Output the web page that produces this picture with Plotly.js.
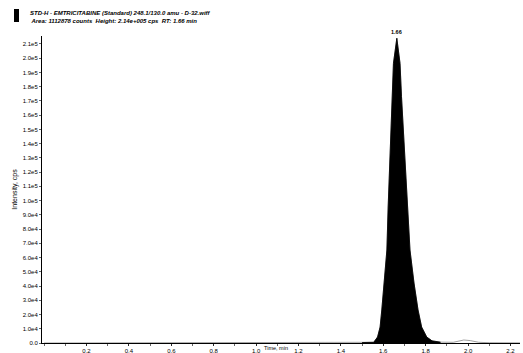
<!DOCTYPE html>
<html>
<head>
<meta charset="utf-8">
<script src="https://cdn.plot.ly/plotly-3.0.1.min.js"></script>
<style>html,body{margin:0;padding:0;background:#fff;}#chart{width:523px;height:353px;}</style>
</head>
<body>
<div id="chart"></div>
<script>
// Time (min) and intensity (cps)
var timeMin = [0.0, 0.5, 1.0, 1.2, 1.4, 1.50, 1.555, 1.573, 1.585, 1.593, 1.604, 1.617, 1.623, 1.629, 1.635, 1.640, 1.648, 1.664,
  1.679, 1.686, 1.695, 1.706, 1.715, 1.726, 1.745, 1.764, 1.781, 1.805, 1.83, 1.87, 1.93, 1.96, 1.98, 2.01, 2.05, 2.10, 2.245];
var intensity = [0, 200, 300, 300, 300, 300, 500, 4200, 11200, 23200, 42100, 65300, 95500, 119400, 149600, 173000, 196400, 214000,
  196400, 173000, 149600, 119400, 95500, 65300, 42100, 23200, 11200, 4200, 1500, 600, 500, 1600, 2100, 1700, 500, 200, 100];
var peakRT = 1.664, peakHeight = 214000, peakLabel = "1.66";
var xTickVals = [0.2, 0.4, 0.6, 0.8, 1.0, 1.2, 1.4, 1.6, 1.8, 2.0, 2.2];
var xTickText = ["0.2", "0.4", "0.6", "0.8", "1.0", "1.2", "1.4", "1.6", "1.8", "2.0", "2.2"];
var yTickVals = [0, 1e4, 2e4, 3e4, 4e4, 5e4, 6e4, 7e4, 8e4, 9e4, 1e5, 1.1e5, 1.2e5, 1.3e5, 1.4e5, 1.5e5, 1.6e5, 1.7e5, 1.8e5, 1.9e5, 2.0e5, 2.1e5];
var yTickText = ["0.0", "1.0e4", "2.0e4", "3.0e4", "4.0e4", "5.0e4", "6.0e4", "7.0e4", "8.0e4", "9.0e4", "1.0e5", "1.1e5", "1.2e5", "1.3e5", "1.4e5", "1.5e5", "1.6e5", "1.7e5", "1.8e5", "1.9e5", "2.0e5", "2.1e5"];
var titleLine1 = "STD-H - EMTRICITABINE (Standard) 248.1/130.0 amu - D-32.wiff";
var titleLine2 = "Area: 1112878 counts  Height: 2.14e+005 cps  RT: 1.66 min";

// peak segment (filled) taken from the same arrays
var pkX = [], pkY = [];
for (var i = 0; i < timeMin.length; i++) {
  if (timeMin[i] >= 1.5 && timeMin[i] <= 1.87) { pkX.push(timeMin[i]); pkY.push(intensity[i]); }
}

var traces = [
  {x: timeMin, y: intensity, type: 'scatter', mode: 'lines', line: {color: '#888', width: 0.8, shape: 'linear'}, hoverinfo: 'skip'},
  {x: pkX, y: pkY, type: 'scatter', mode: 'lines', fill: 'tozeroy', fillcolor: '#000', line: {color: '#000', width: 0.8, shape: 'linear'}, hoverinfo: 'skip'}
];

var font = 'Liberation Sans, Arial, sans-serif';
var layout = {
  width: 523, height: 353,
  margin: {l: 42, r: 3, t: 36, b: 10, pad: 0},
  paper_bgcolor: '#fff', plot_bgcolor: '#fff',
  showlegend: false,
  xaxis: {range: [-0.01, 2.245], showgrid: false, zeroline: false, showline: true, linecolor: '#000', linewidth: 1,
    tickmode: 'array', tickvals: xTickVals, ticktext: xTickText, ticks: 'outside', ticklen: 2, tickcolor: '#000', tickwidth: 0.6,
    tickfont: {family: font, size: 6, color: '#000'},
    minor: {tickmode: 'linear', tick0: 0, dtick: 0.1, ticks: 'outside', ticklen: 2, tickcolor: '#000', tickwidth: 0.6}},
  yaxis: {range: [0, 215600], showgrid: false, zeroline: false, showline: true, linecolor: '#000', linewidth: 1,
    tickmode: 'array', tickvals: yTickVals, ticktext: yTickText, ticks: 'outside', ticklen: 2, tickcolor: '#000', tickwidth: 0.6,
    tickfont: {family: font, size: 6, color: '#000'},
    title: {text: 'Intensity, cps', font: {family: font, size: 7, color: '#000'}, standoff: 4}},
  shapes: [
    {type: 'rect', xref: 'paper', yref: 'paper', x0: -28/478, x1: -23/478, y0: (343-22)/307, y1: (343-9)/307, fillcolor: '#000', line: {width: 0}}
  ],
  annotations: [
    {xref: 'paper', yref: 'paper', x: -14/478, y: (343-8)/307, xanchor: 'left', yanchor: 'top', align: 'left', showarrow: false,
      text: '<b><i>' + titleLine1 + '<br> ' + titleLine2 + '</i></b>', font: {family: font, size: 6, color: '#000'}},
    {x: peakRT, y: peakHeight, xref: 'x', yref: 'y', showarrow: false, yanchor: 'bottom', yshift: 1,
      text: '<b>' + peakLabel + '</b>', font: {family: font, size: 5.5, color: '#000'}},
    {xref: 'paper', yref: 'paper', x: (276-42)/478, y: -10/307, xanchor: 'center', yanchor: 'bottom', showarrow: false,
      text: 'Time, min', font: {family: font, size: 5.5, color: '#000'}}
  ]
};
Plotly.newPlot('chart', traces, layout, {displayModeBar: false, staticPlot: true});
</script>
</body>
</html>
